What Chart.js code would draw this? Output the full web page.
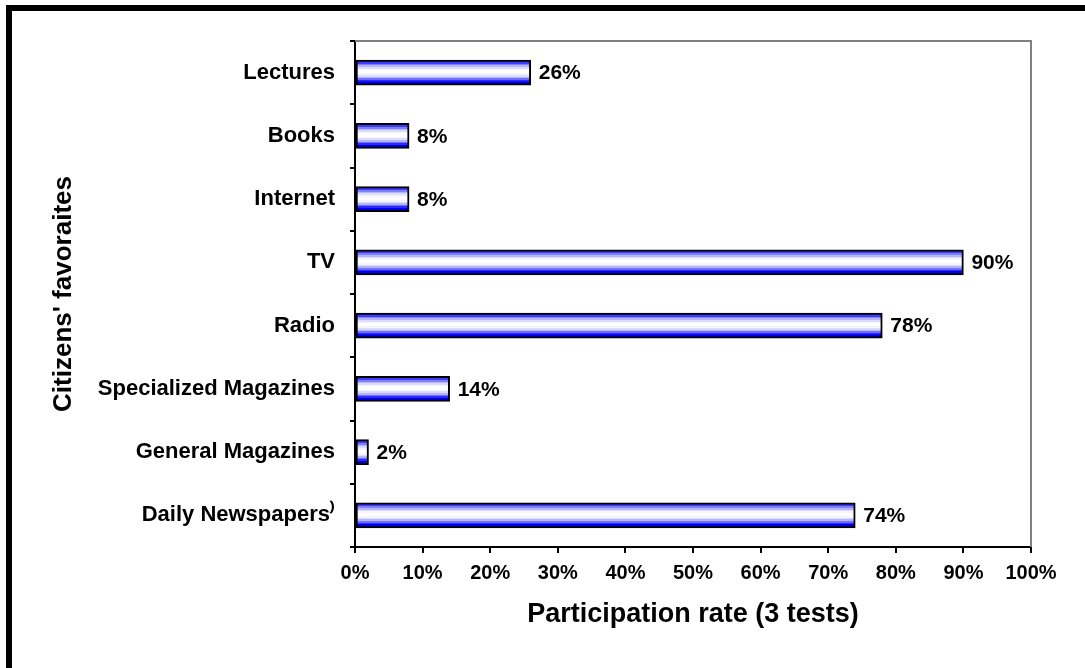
<!DOCTYPE html>
<html>
<head>
<meta charset="utf-8">
<title>Citizens' favoraites</title>
<script src="https://cdn.jsdelivr.net/npm/chart.js@4/dist/chart.umd.min.js"></script>
<style>
  html, body { margin: 0; padding: 0; background: #fff; overflow: hidden; width: 1085px; height: 668px; }
  #frame {
    position: absolute; left: 6px; top: 5px; right: 0; bottom: 0;
    border-left: 6px solid #000;
    border-top: 6px solid #000;
  }
  #wrap { position: absolute; left: 0; top: 0; width: 1085px; height: 668px; }
</style>
</head>
<body>
<div id="frame"></div>
<div id="wrap"><canvas id="favChart"></canvas></div>
<script>
'use strict';

// --- data ---
const CATEGORIES = ['Lectures', 'Books', 'Internet', 'TV', 'Radio',
  'Specialized Magazines', 'General Magazines', 'Daily Newspapers\u207E'];
const RATES = [26, 8, 8, 90, 78, 14, 2, 74];
const X_TICKS = [0, 10, 20, 30, 40, 50, 60, 70, 80, 90, 100];

const FONT = '"Liberation Sans", Arial, sans-serif';
Chart.defaults.font.family = FONT;
Chart.defaults.color = '#000';

const BAR_H = 25;

// banded blue/white fill, like the old office chart
function barFill(ctx) {
  const chart = ctx.chart;
  const yScale = chart.scales.y;
  if (ctx.dataIndex === undefined || !yScale) return '#8c8cff';
  const cy = yScale.getPixelForValue(ctx.dataIndex);
  if (!isFinite(cy)) return '#8c8cff';
  const inner = BAR_H / 2 - 2;
  const g = chart.ctx.createLinearGradient(0, cy - inner, 0, cy + inner);
  const bands = ['#3c3cff', '#8080ff', '#b4b4ff', '#dcdcff', '#f4f4ff', '#fff',
    '#fff', '#f4f4ff', '#dcdcff', '#b4b4ff', '#7070ff', '#2a2aff', '#0000f0'];
  bands.forEach((c, i) => {
    g.addColorStop(i / bands.length, c);
    g.addColorStop((i + 1) / bands.length - 0.001, c);
  });
  return g;
}

// gray frame on top and right of the plot
const plotFrame = {
  id: 'plotFrame',
  beforeDatasetsDraw(chart) {
    const { ctx, chartArea: a } = chart;
    ctx.save();
    ctx.strokeStyle = '#808080';
    ctx.lineWidth = 2;
    ctx.beginPath();
    ctx.moveTo(a.left, a.top);
    ctx.lineTo(a.right, a.top);
    ctx.lineTo(a.right, a.bottom);
    ctx.stroke();
    ctx.restore();
  },
};

// value labels right of each bar
const valueLabels = {
  id: 'valueLabels',
  afterDatasetsDraw(chart) {
    const { ctx } = chart;
    const meta = chart.getDatasetMeta(0);
    ctx.save();
    ctx.font = 'bold 21px ' + FONT;
    ctx.fillStyle = '#000';
    ctx.textAlign = 'left';
    ctx.textBaseline = 'middle';
    meta.data.forEach((bar, i) => {
      ctx.fillText(RATES[i] + '%', bar.x + 8, bar.y + 1);
    });
    ctx.restore();
  },
};

new Chart(document.getElementById('favChart').getContext('2d'), {
  type: 'bar',
  data: {
    labels: CATEGORIES,
    datasets: [{
      data: RATES,
      backgroundColor: barFill,
      borderColor: '#000',
      borderWidth: 2,
      borderSkipped: false,
      barThickness: BAR_H,
    }],
  },
  options: {
    indexAxis: 'y',
    responsive: true,
    maintainAspectRatio: false,
    animation: false,
    layout: { padding: { top: 41, right: 54, left: 0, bottom: 0 } },
    plugins: { legend: { display: false }, tooltip: { enabled: false } },
    scales: {
      x: {
        min: 0,
        max: 100,
        afterFit: s => { s.height = 121; },
        afterBuildTicks: s => { s.ticks = X_TICKS.map(v => ({ value: v })); },
        grid: { drawOnChartArea: false, tickLength: 6, color: '#000', lineWidth: 2 },
        border: { color: '#000', width: 2 },
        ticks: {
          padding: 8,
          maxRotation: 0,
          autoSkip: false,
          font: { size: 20, weight: 'bold' },
          callback: v => v + '%',
        },
        title: {
          display: true,
          text: 'Participation rate (3 tests)',
          font: { size: 27, weight: 'bold' },
          padding: { top: 0, bottom: 37 },
        },
      },
      y: {
        afterFit: s => { s.width = 355; },
        grid: { drawOnChartArea: false, tickLength: 5, color: '#000', lineWidth: 2 },
        border: { color: '#000', width: 2 },
        ticks: { padding: 15, autoSkip: false, font: { size: 22, weight: 'bold' } },
        title: {
          display: true,
          text: "Citizens' favoraites",
          font: { size: 26, weight: 'bold' },
          padding: { top: 48, bottom: 0 },
        },
      },
    },
  },
  plugins: [plotFrame, valueLabels],
});
</script>
</body>
</html>
